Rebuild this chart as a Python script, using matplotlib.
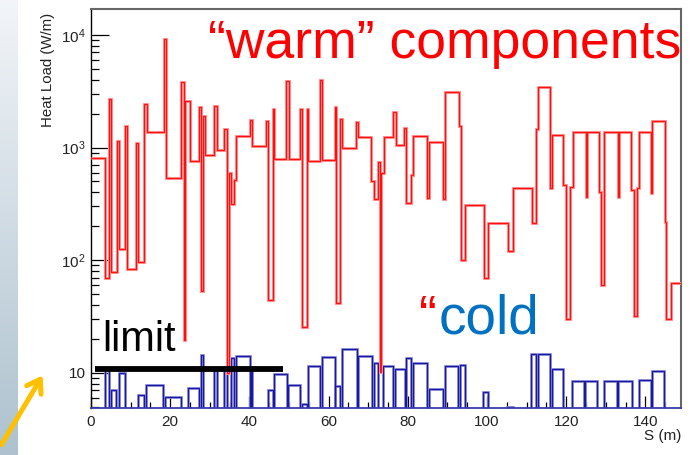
import numpy as np
import matplotlib
matplotlib.use("Agg")
from matplotlib import pyplot as plt
from matplotlib.ticker import FixedLocator, FixedFormatter, MultipleLocator, NullFormatter

plt.rcParams['font.family'] = ['Liberation Sans', 'DejaVu Sans']
plt.rcParams['mathtext.fontset'] = 'custom'
plt.rcParams['mathtext.rm'] = 'Liberation Sans'
plt.rcParams['mathtext.it'] = 'Liberation Sans'

# "warm" components: step profile, bin edges in S (m) and heat load (W/m)
red_edges = [0, 3.45, 4.6, 5.1, 6.5, 7.1, 8.5, 9.2, 11.4, 11.9,
             13.4, 14.1, 18.4, 18.9, 22.8, 23.4, 23.8, 24.9, 27.3, 27.9,
             28.4, 28.7, 31.1, 31.7, 33.7, 34.3, 34.8, 35.4, 36.2, 36.6,
             40.2, 40.7, 44.2, 44.8, 45.9, 46.3, 49.2, 49.9, 52.8, 53.4,
             54.5, 54.9, 57.8, 58.4, 61.5, 61.9, 62.9, 63.5, 67.0, 67.4,
             70.8, 71.5, 72.5, 73.0, 73.3, 73.9, 76.3, 76.9, 79.1, 79.6,
             80.9, 81.3, 84.8, 85.4, 88.9, 89.5, 92.9, 93.4, 94.5, 99.2,
             100.3, 105.4, 106.5, 111.3, 112.3, 112.9, 115.9, 116.5, 119.1, 119.9,
             121.0, 121.6, 124.9, 125.3, 128.3, 128.7, 129.5, 133.0, 133.3, 136.4,
             137.1, 137.9, 138.4, 141.3, 141.7, 144.9, 145.3, 146.4, 149.0]
red_values = [810, 69, 2700, 79, 1140, 125, 1540, 83, 1090, 97,
              2420, 1365, 9150, 540, 3850, 19.5, 2590, 760, 2280, 53,
              1905, 858, 2340, 955, 1450, 9.9, 590, 315, 514, 1265,
              1755, 1025, 1720, 44.7, 2180, 790, 3930, 790, 2200, 25.5,
              2200, 764, 3980, 775, 2280, 42, 1790, 985, 1675, 1250,
              504, 348, 738, 10.2, 600, 1250, 2055, 1050, 1480, 319,
              570, 1265, 358, 1128, 348, 3090, 1563, 101, 308, 70,
              212, 121, 433, 215, 1460, 3430, 433, 1290, 464, 30,
              450, 1365, 366, 1365, 405, 60, 1365, 366, 1365, 419,
              32, 433, 1365, 392, 1720, 216, 30, 63]

# "cold" components: separate boxes
blue_left = [3.45, 5.0, 7.1, 11.9, 14.0, 18.8, 24.4, 27.9, 31.1, 33.7,
             35.4, 36.6, 40.3, 44.8, 46.3, 49.8, 53.3, 54.9, 58.3, 61.7,
             63.5, 67.5, 71.4, 73.7, 76.8, 79.5, 81.3, 85.4, 89.4, 93.2,
             99.1, 105.0, 111.1, 112.9, 116.3, 121.4, 124.7, 129.6, 133.2, 138.4,
             141.8]
blue_right = [4.5, 6.4, 8.5, 13.4, 18.3, 22.8, 27.3, 28.4, 31.7, 34.3,
              36.2, 40.2, 40.7, 45.9, 49.4, 52.8, 54.5, 57.8, 61.7, 63.0,
              67.1, 71.0, 72.6, 76.3, 79.3, 80.9, 84.9, 88.8, 92.8, 94.4,
              100.3, 106.6, 112.5, 115.9, 119.3, 124.5, 127.9, 132.9, 136.5, 141.3,
              144.8]
blue_values = [10.5, 7.0, 10.0, 6.4, 7.7, 6.1, 7.25, 14.5, 11, 11,
               13.4, 14.0, 11, 7.0, 9.8, 7.7, 5.3, 11.4, 13.8, 7.6,
               16.2, 14.0, 12.1, 11.4, 10.9, 13.5, 12.1, 7.2, 11.5, 11.8,
               6.8, 5.0, 14.8, 14.8, 10.7, 8.5, 8.5, 8.5, 8.5, 8.6,
               10.4]

limit_value = 10.9
limit_range = [0.9, 48.6]

x_ticks = [0, 20, 40, 60, 80, 100, 120, 140]
y_ticks = [10, 100, 1000, 10000]
y_labels = ['10', '$10^{2}$', '$10^{3}$', '$10^{4}$']

fig = plt.figure(figsize=(6.98, 4.55), dpi=100)

# slide background strip on the left
bg = fig.add_axes([0, 0, 18 / 698, 1])
grad = np.linspace(0, 1, 256).reshape(-1, 1)
top_c = np.array([0.95, 0.96, 0.975])
bot_c = np.array([0.68, 0.76, 0.81])
img = top_c + (bot_c - top_c) * grad[:, :, None]
bg.imshow(img, aspect='auto', extent=[0, 1, 0, 1])
bg.axis('off')

ax = fig.add_axes([91 / 698, 1 - 407.7 / 455, 590 / 698, (407.7 - 9) / 455])
ax.set_yscale('log')

widths = [r - l for l, r in zip(blue_left, blue_right)]
ax.bar(blue_left, [v - 4 for v in blue_values], width=widths, bottom=4, align='edge',
       fill=False, edgecolor='#9090d8', linewidth=2.0, zorder=2)
ax.bar(blue_left, [v - 4 for v in blue_values], width=widths, bottom=4, align='edge',
       fill=False, edgecolor='#1818a0', linewidth=0.9, zorder=2)

ax.stairs(red_values, red_edges, baseline=None, color='#ff9a9a', linewidth=2.2, zorder=3)
ax.stairs(red_values, red_edges, baseline=None, color='#ff1010', linewidth=0.9, zorder=3)

ax.plot(limit_range, [limit_value, limit_value], color='black', linewidth=4.2,
        solid_capstyle='butt', zorder=4)

ax.set_xlim(0, 149)
ax.set_ylim(4.89, 17000)

ax.xaxis.set_major_locator(FixedLocator(x_ticks))
ax.xaxis.set_minor_locator(MultipleLocator(5))
ax.yaxis.set_major_locator(FixedLocator(y_ticks))
ax.yaxis.set_major_formatter(FixedFormatter(y_labels))
ax.yaxis.set_minor_formatter(NullFormatter())
ax.tick_params(axis='both', which='both', direction='in', colors='black', labelsize=11)
ax.tick_params(axis='y', which='major', length=13, width=0.9, pad=4)
ax.tick_params(axis='y', which='minor', length=6, width=0.9)
ax.tick_params(axis='x', which='major', length=9, width=0.9, pad=5)
ax.tick_params(axis='x', which='minor', length=4.5, width=0.9)
for lab in ax.get_xticklabels() + ax.get_yticklabels():
    lab.set_color('#222222')

ax.spines['left'].set_color('black')
ax.spines['left'].set_linewidth(1.0)
ax.spines['top'].set_color('#666666')
ax.spines['top'].set_linewidth(1.5)
ax.spines['right'].set_color('#666666')
ax.spines['right'].set_linewidth(1.5)
ax.spines['bottom'].set_color('#3a3ab0')
ax.spines['bottom'].set_linewidth(1.3)

fig.text(48 / 698, 1 - 13 / 455, 'Heat Load (W/m)', rotation=90, ha='center', va='top',
         fontsize=10.8, color='#222222')
fig.text(681 / 698, 1 - 436 / 455, 'S (m)', ha='right', va='center', fontsize=11,
         color='#222222')

fig.text(208 / 698, 1 - 58 / 455, '\u201cwarm\u201d components', color='#ff0000',
         fontsize=38.5, ha='left', va='baseline')
fig.text(419 / 698, 1 - 333 / 455, '\u201c', color='#ff0000', fontsize=38.5,
         ha='left', va='baseline')
fig.text(439 / 698, 1 - 333 / 455, 'cold', color='#0070c0', fontsize=39.5,
         ha='left', va='baseline')
fig.text(102 / 698, 1 - 351 / 455, 'limit', color='black', fontsize=30,
         ha='left', va='baseline')

fig.add_artist(matplotlib.patches.FancyArrowPatch(
    (0 / 698, 1 - 447 / 455), (44 / 698, 1 - 373 / 455), transform=fig.transFigure,
    arrowstyle='->,head_length=6,head_width=4', color='#ffc000', linewidth=3.6,
    mutation_scale=1.5))

fig.savefig('out.png', dpi=100)
